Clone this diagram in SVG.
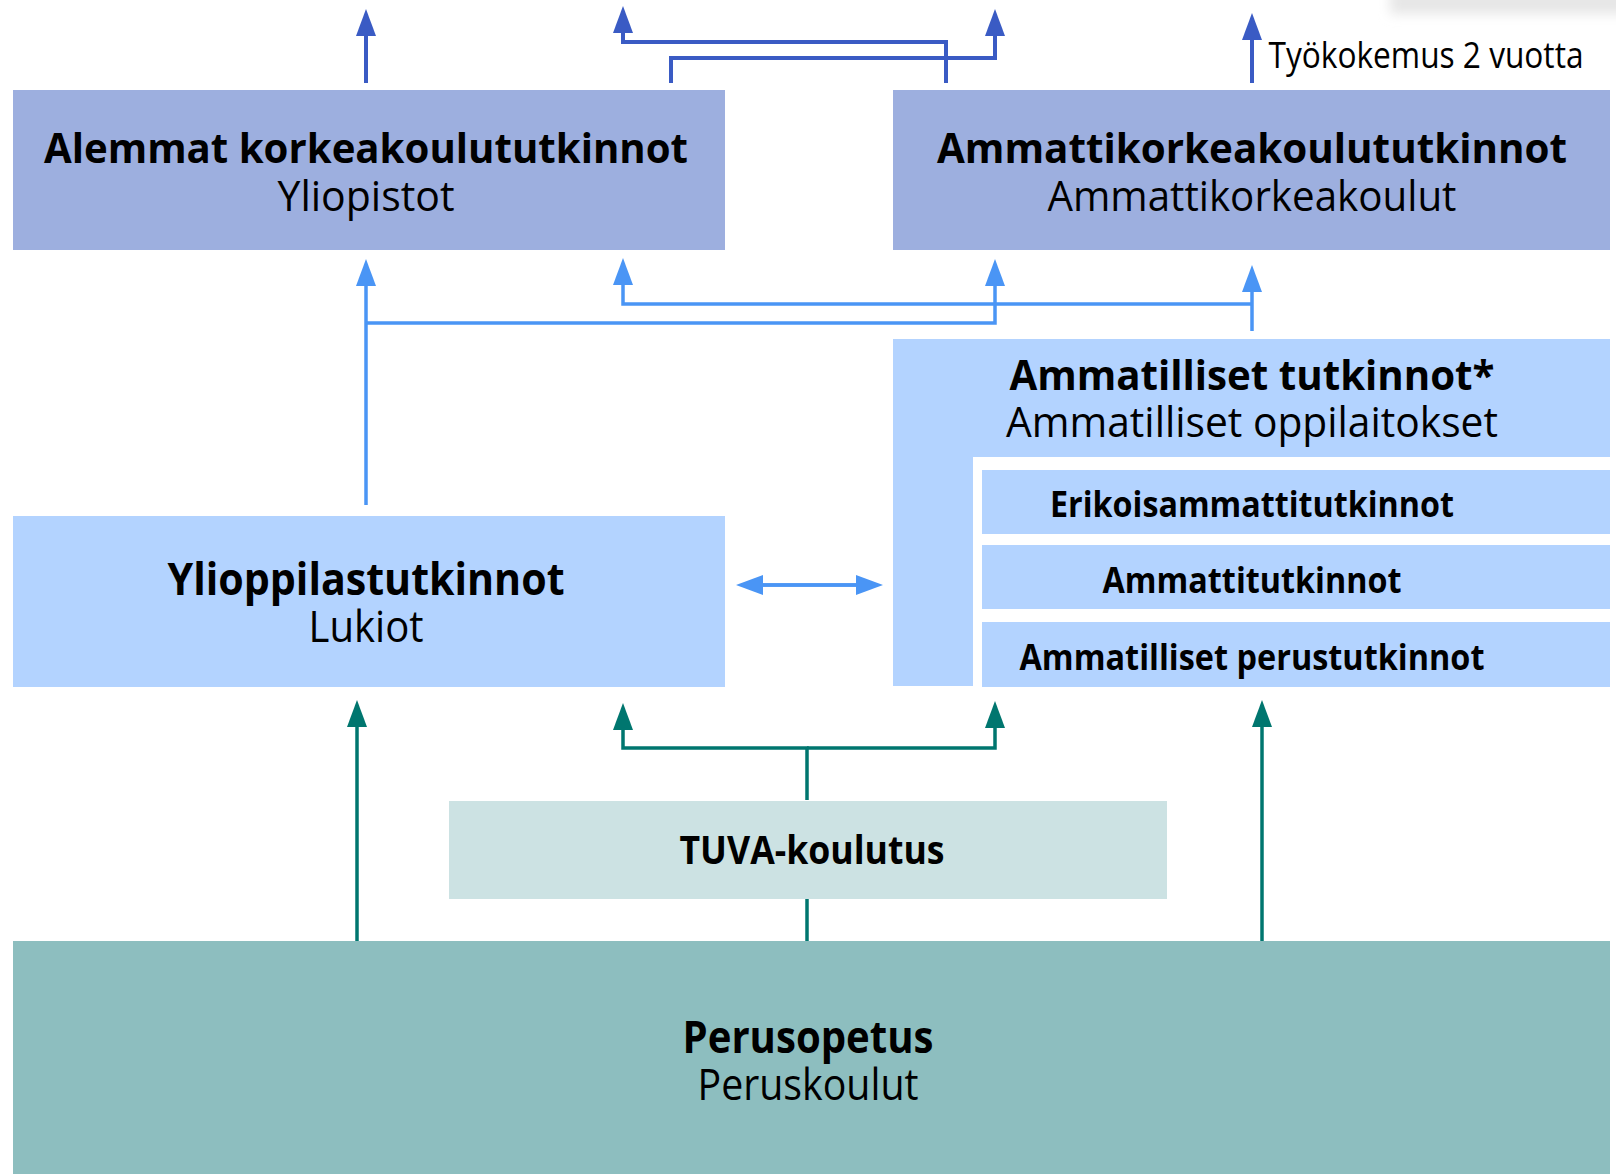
<svg xmlns="http://www.w3.org/2000/svg" width="1616" height="1174" viewBox="0 0 1616 1174">
  <defs>
    <style>
      .t { font-family: "Open Sans", "Noto Sans", "DejaVu Sans", sans-serif; fill: #000; text-anchor: middle; }
      .b { font-weight: 700; }
      .r { font-weight: 400; }
      .dk { fill: none; stroke: #3A5BC4; stroke-width: 4; }
      .lb { fill: none; stroke: #4A95F5; stroke-width: 3.5; }
      .tl { fill: none; stroke: #00766F; stroke-width: 3.5; }
    </style>
    <marker id="hDk" markerUnits="userSpaceOnUse" markerWidth="27" markerHeight="20" refX="0" refY="10" orient="auto" viewBox="0 0 27 20">
      <path d="M0,0 L27,10 L0,20 Z" fill="#3A5BC4"/>
    </marker>
    <marker id="hLb" markerUnits="userSpaceOnUse" markerWidth="27" markerHeight="20" refX="0" refY="10" orient="auto" viewBox="0 0 27 20">
      <path d="M0,0 L27,10 L0,20 Z" fill="#4A95F5"/>
    </marker>
    <marker id="hTl" markerUnits="userSpaceOnUse" markerWidth="27" markerHeight="20" refX="0" refY="10" orient="auto" viewBox="0 0 27 20">
      <path d="M0,0 L27,10 L0,20 Z" fill="#00766F"/>
    </marker>
    <filter id="blur" x="-20%" y="-100%" width="140%" height="300%">
      <feGaussianBlur stdDeviation="6"/>
    </filter>
  </defs>

  <rect x="0" y="0" width="1616" height="1174" fill="#FFFFFF"/>
  <rect x="1390" y="-10" width="240" height="24" fill="#E6E6E6" filter="url(#blur)"/>

  <g id="alemmat">
    <rect x="13" y="90" width="712" height="160" fill="#9DAFDF"/>
    <text class="t b" x="366" y="163" font-size="42" textLength="644" lengthAdjust="spacingAndGlyphs">Alemmat korkeakoulututkinnot</text>
    <text class="t r" x="366" y="211" font-size="42" textLength="177" lengthAdjust="spacingAndGlyphs">Yliopistot</text>
  </g>

  <g id="amk">
    <rect x="893" y="90" width="717" height="160" fill="#9DAFDF"/>
    <text class="t b" x="1252" y="163" font-size="42" textLength="630" lengthAdjust="spacingAndGlyphs">Ammattikorkeakoulututkinnot</text>
    <text class="t r" x="1252" y="211" font-size="42" textLength="409" lengthAdjust="spacingAndGlyphs">Ammattikorkeakoulut</text>
  </g>

  <g id="tyokokemus">
    <text class="t r" x="1426" y="68" font-size="37" textLength="315" lengthAdjust="spacingAndGlyphs">Työkokemus 2 vuotta</text>
  </g>

  <g id="ylioppilas">
    <rect x="13" y="516" width="712" height="171" fill="#B3D3FF"/>
    <text class="t b" x="366" y="595" font-size="44" textLength="397" lengthAdjust="spacingAndGlyphs">Ylioppilastutkinnot</text>
    <text class="t r" x="366" y="642" font-size="44" textLength="115" lengthAdjust="spacingAndGlyphs">Lukiot</text>
  </g>

  <g id="ammatilliset">
    <path d="M893,339 H1610 V457 H973 V686 H893 Z" fill="#B3D3FF"/>
    <text class="t b" x="1252" y="390" font-size="42" textLength="485" lengthAdjust="spacingAndGlyphs">Ammatilliset tutkinnot*</text>
    <text class="t r" x="1252" y="437" font-size="42" textLength="492" lengthAdjust="spacingAndGlyphs">Ammatilliset oppilaitokset</text>
  </g>

  <g id="erikoisammatti">
    <rect x="982" y="470" width="628" height="64" fill="#B3D3FF"/>
    <text class="t b" x="1252" y="517" font-size="35" textLength="404" lengthAdjust="spacingAndGlyphs">Erikoisammattitutkinnot</text>
  </g>

  <g id="ammatti">
    <rect x="982" y="545" width="628" height="64" fill="#B3D3FF"/>
    <text class="t b" x="1252" y="593" font-size="35" textLength="299" lengthAdjust="spacingAndGlyphs">Ammattitutkinnot</text>
  </g>

  <g id="perustutkinnot">
    <rect x="982" y="622" width="628" height="65" fill="#B3D3FF"/>
    <text class="t b" x="1252" y="670" font-size="35" textLength="465" lengthAdjust="spacingAndGlyphs">Ammatilliset perustutkinnot</text>
  </g>

  <g id="tuva">
    <rect x="449" y="801" width="718" height="98" fill="#CCE2E3"/>
    <text class="t b" x="812" y="864" font-size="39" textLength="265" lengthAdjust="spacingAndGlyphs">TUVA-koulutus</text>
  </g>

  <g id="perusopetus">
    <rect x="13" y="941" width="1597" height="233" fill="#8DBEBF"/>
    <text class="t b" x="808" y="1053" font-size="44" textLength="251" lengthAdjust="spacingAndGlyphs">Perusopetus</text>
    <text class="t r" x="808" y="1100" font-size="44" textLength="221" lengthAdjust="spacingAndGlyphs">Peruskoulut</text>
  </g>

  <g id="connectors">
    <!-- top dark blue -->
    <path class="dk" d="M366,83 V36" marker-end="url(#hDk)"/>
    <path class="dk" d="M946,83 V42 H623 V33" marker-end="url(#hDk)"/>
    <path class="dk" d="M671,83 V58 H995 V36" marker-end="url(#hDk)"/>
    <path class="dk" d="M1252,83 V40" marker-end="url(#hDk)"/>
    <!-- light blue -->
    <path class="lb" d="M366,505 V286" marker-end="url(#hLb)"/>
    <path class="lb" d="M366,323 H995 V286" marker-end="url(#hLb)"/>
    <path class="lb" d="M1252,331 V292" marker-end="url(#hLb)"/>
    <path class="lb" d="M1252,304 H623 V285" marker-end="url(#hLb)"/>
    <path class="lb" d="M763,585 H856" marker-start="url(#hLb)" marker-end="url(#hLb)" style="marker-start: none"/>
    <path class="lb" d="M856,585 H763" marker-end="url(#hLb)"/>
    <!-- teal -->
    <path class="tl" d="M357,941 V727" marker-end="url(#hTl)"/>
    <path class="tl" d="M807,800 V748 H623 V730" marker-end="url(#hTl)"/>
    <path class="tl" d="M807,748 H995 V728" marker-end="url(#hTl)"/>
    <path class="tl" d="M807,899 V941"/>
    <path class="tl" d="M1262,941 V727" marker-end="url(#hTl)"/>
  </g>
</svg>
